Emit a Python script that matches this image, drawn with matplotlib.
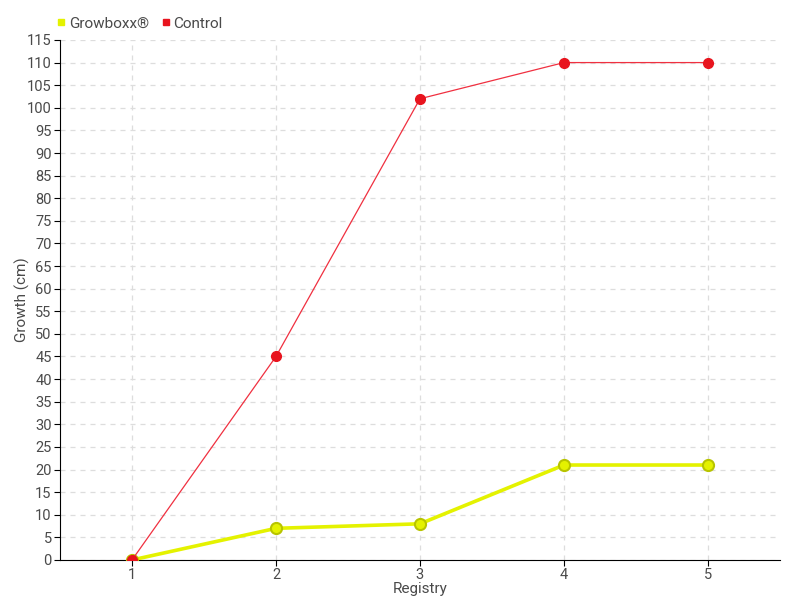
import matplotlib
matplotlib.use("Agg")
import matplotlib.pyplot as plt
from matplotlib.lines import Line2D

# data
registry = [1, 2, 3, 4, 5]
growboxx = [0, 7, 8, 21, 21]
control = [0, 45, 102, 110, 110]

plt.rcParams['font.family'] = ['Roboto', 'DejaVu Sans']

txt = '#4a4a4a'

fig = plt.figure(figsize=(8, 6), dpi=100)
ax = fig.add_axes([0.075, 0.0667, 0.9, 0.8667])

ax.plot(registry, growboxx, color='#e4f200', lw=2.6, marker='o', ms=8,
        mfc='#e4f200', mec='#b8c400', mew=1.5, zorder=3)
ax.plot(registry, control, color='#f03040', lw=0.9, marker='o', ms=7,
        mfc='#e8141e', mec='#e8141e', zorder=4)

ax.set_xlim(0.5, 5.5)
ax.set_ylim(0, 115)
ax.set_xticks(registry)
ax.set_yticks(range(0, 116, 5))
ax.grid(True, color='#dddddd', linestyle=(0, (4, 4)), lw=0.9)
ax.set_axisbelow(True)
for s in ('top', 'right'):
    ax.spines[s].set_visible(False)
ax.tick_params(colors='black', labelcolor=txt, labelsize=10.5, length=4, pad=2)
ax.set_xlabel('Registry', color=txt, fontsize=11, labelpad=0)
ax.set_ylabel('Growth (cm)', color=txt, fontsize=11)
ax.yaxis.set_label_coords(-0.042, 0.5)

handles = [Line2D([], [], ls='none', marker='s', ms=5, color='#e4f200'),
           Line2D([], [], ls='none', marker='s', ms=5, color='#e8141e')]
fig.legend(handles, ['Growboxx®', 'Control'], loc='upper left',
           bbox_to_anchor=(0.05, 0.995), ncol=2, frameon=False,
           handletextpad=0.0, columnspacing=0.6, handlelength=1.0,
           labelcolor=txt, fontsize=11)

fig.savefig('out.png', dpi=100)
